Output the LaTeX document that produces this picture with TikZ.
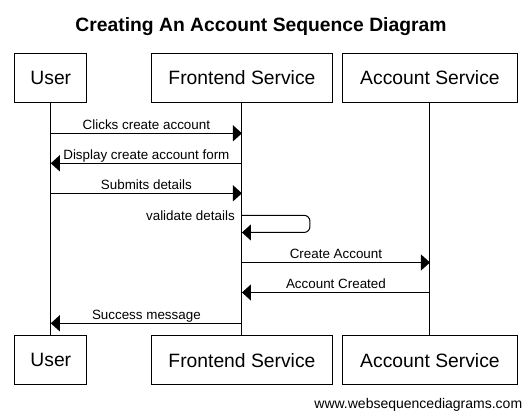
\documentclass[tikz,border=0pt]{standalone}
\usepackage{fontspec}
\setmainfont{Liberation Sans}
\usetikzlibrary{positioning, arrows.meta}

\begin{document}
\begin{tikzpicture}[
        x=1pt, y=-1pt,
        line width=1pt,
        actor/.style={draw, minimum height=49pt, inner sep=0pt, font=\fontsize{19.3}{23}\selectfont},
        msg/.style={-{Triangle[length=9pt, width=16pt]}},
        lbl/.style={font=\fontsize{13.4}{16}\selectfont, inner sep=0pt, anchor=base, yshift=4pt},
        note/.style={font=\fontsize{13.4}{16}\selectfont, inner sep=0pt, anchor=base east}
    ]
        \useasboundingbox (0,0) rectangle (532,419);

        \node[font=\bfseries\fontsize{19.3}{23}\selectfont, anchor=base] (title) at (261,31.5) {Creating An Account Sequence Diagram};

        % participants, top row
        \node[actor, minimum width=71.7pt] (user) at (50.8,77.8) {User};
        \node[actor, minimum width=180.6pt, right=64pt of user] (front) {Frontend Service};
        \node[actor, minimum width=175.4pt, right=9pt of front] (acct) {Account Service};

        % participants, bottom row
        \node[actor, minimum width=71.7pt, below=232.4pt of user] (userB) {User};
        \node[actor, minimum width=180.6pt, below=232.4pt of front] (frontB) {Frontend Service};
        \node[actor, minimum width=175.4pt, below=232.4pt of acct] (acctB) {Account Service};

        % lifelines
        \draw (user) -- (userB);
        \draw (front) -- (frontB);
        \draw (acct) -- (acctB);

        % message rows
        \coordinate (r1) at (0,133.3);
        \coordinate (r2) at (0,163.3);
        \coordinate (r3) at (0,193.3);
        \coordinate (r4) at (0,215.3);
        \coordinate (r5) at (0,232.5);
        \coordinate (r6) at (0,262.5);
        \coordinate (r7) at (0,292.5);
        \coordinate (r8) at (0,323.3);

        \draw[msg] (user |- r1) -- node[lbl] {Clicks create account} (front |- r1);
        \draw[msg] (front |- r2) -- node[lbl] {Display create account form} (user |- r2);
        \draw[msg] (user |- r3) -- node[lbl] {Submits details} (front |- r3);
        \draw[msg, rounded corners=6pt] (front |- r4) -- ++(68,0) |- (front |- r5);
        \node[note, xshift=-6.7pt, yshift=-5.4pt] (validate) at (front |- r4) {validate details};
        \draw[msg] (front |- r6) -- node[lbl] {Create Account} (acct |- r6);
        \draw[msg] (acct |- r7) -- node[lbl] {Account Created} (front |- r7);
        \draw[msg] (front |- r8) -- node[lbl] {Success message} (user |- r8);

        \node[font=\fontsize{14}{17}\selectfont, inner sep=0pt, anchor=base east] (site) at (522.7,408) {www.websequencediagrams.com};
\end{tikzpicture}
\end{document}
